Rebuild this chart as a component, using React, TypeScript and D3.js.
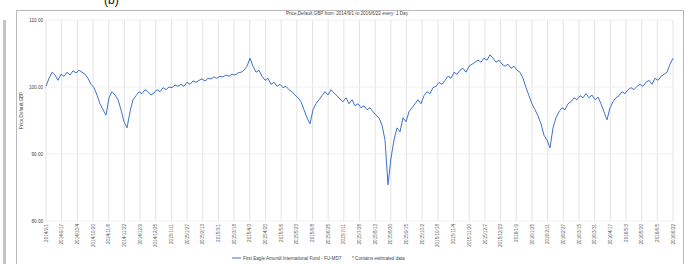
import React from 'react'
import * as d3 from 'd3'

// fund price, one reading roughly every 3px along the chart
const prices = [
  100.1, 101.3, 102.2, 101.8, 101.0, 101.9, 101.6, 102.2, 101.8, 102.4, 102.1, 102.5, 102.2, 101.9, 101.3,
  100.4, 99.9, 98.8, 97.5, 96.6, 95.8, 98.4, 99.3, 98.8, 98.1, 96.6, 94.8, 93.9, 96.3, 98.1,
  98.7, 99.3, 99.0, 99.6, 99.3, 98.8, 99.1, 99.6, 99.3, 99.9, 99.6, 100.0, 99.9, 100.3, 100.1,
  100.4, 100.1, 100.7, 100.4, 100.9, 100.7, 101.0, 101.2, 100.9, 101.3, 101.2, 101.5, 101.3, 101.6, 101.5,
  101.8, 101.6, 101.9, 101.8, 102.1, 102.2, 102.5, 103.1, 104.3, 103.1, 102.2, 102.5, 101.6, 101.0, 101.3,
  100.4, 100.7, 100.1, 100.4, 99.9, 100.1, 99.6, 99.3, 98.8, 98.4, 97.8, 96.6, 95.4, 94.5, 96.6,
  97.5, 98.1, 98.7, 99.3, 98.8, 99.6, 99.1, 98.7, 98.2, 97.8, 98.4, 97.5, 98.1, 97.2, 97.5,
  96.9, 97.2, 96.6, 96.9, 96.3, 95.8, 95.4, 94.3, 92.1, 85.4, 89.4, 92.1, 93.9, 93.3, 95.4,
  94.8, 96.3, 96.9, 97.5, 98.1, 97.5, 98.7, 99.3, 99.0, 99.9, 100.1, 100.7, 100.4, 101.0, 101.6,
  101.3, 102.2, 101.9, 102.5, 102.8, 102.2, 103.1, 103.4, 103.7, 104.0, 103.7, 104.3, 104.0, 104.8, 104.3,
  103.7, 104.0, 103.4, 103.1, 103.4, 102.8, 103.1, 102.5, 102.2, 101.3, 99.9, 98.7, 97.5, 96.6, 95.7,
  94.5, 92.8, 92.1, 90.9, 93.9, 95.4, 96.3, 96.9, 96.6, 97.5, 97.8, 98.4, 98.1, 98.7, 98.4,
  99.0, 98.4, 98.8, 98.1, 98.5, 97.5, 96.3, 95.1, 96.9, 97.8, 98.4, 98.7, 99.3, 99.0, 99.6,
  99.9, 99.6, 100.1, 100.4, 100.1, 100.7, 101.0, 100.4, 101.3, 101.0, 101.6, 101.9, 102.2, 103.4, 104.3,
]

const dateLabels = [
  '2014/9/1', '2014/9/17', '2014/10/4', '2014/10/20', '2014/11/6', '2014/11/22', '2014/12/9',
  '2014/12/25', '2015/1/11', '2015/1/27', '2015/2/13', '2015/3/1', '2015/3/18', '2015/4/3',
  '2015/4/20', '2015/5/6', '2015/5/23', '2015/6/8', '2015/6/25', '2015/7/11', '2015/7/28',
  '2015/8/13', '2015/8/30', '2015/9/15', '2015/10/2', '2015/10/18', '2015/11/4', '2015/11/20',
  '2015/12/7', '2015/12/23', '2016/1/9', '2016/1/25', '2016/2/11', '2016/2/27', '2016/3/15',
  '2016/3/31', '2016/4/17', '2016/5/3', '2016/5/20', '2016/6/5', '2016/6/22',
]

const yTicks = [110, 100, 90, 80]

const seriesName = 'First Eagle Amundi International Fund - FU-MD7'
const title = 'Price,Default,GBP from: 2014/9/1 to 2016/6/22 every: 1 Day'

const W = 689
const H = 264
const left = 46, right = 673, top = 20, bottom = 221
const font = 'Arial, "Liberation Sans", sans-serif'

export default function App() {
  const x = d3.scaleLinear().domain([0, prices.length - 1]).range([left, right])
  const y = d3.scaleLinear().domain([80, 110]).range([bottom, top])
  const xl = d3.scalePoint().domain(dateLabels).range([left, right])

  const line = d3.line<number>()
    .x((d, i) => x(i))
    .y(d => y(d))

  return (
    <svg width={W} height={H} style={{ position: 'absolute', left: 0, top: 0, background: '#fff' }}>
      <text x={104} y={4} fontSize={12} fontFamily={font} fill="#111">(b)</text>
      <rect x={3} y={20} width={3} height={H - 20} fill="#c4c4c4" />
      <rect x={16.5} y={10.5} width={667} height={H} fill="#fff" stroke="#b8b8b8" />

      <text x={347} y={15} fontSize={4.6} fontFamily={font} fill="#444" textAnchor="middle">{title}</text>

      {dateLabels.map(d => (
        <line key={d} x1={xl(d)} x2={xl(d)} y1={top} y2={bottom} stroke="#dcdcdc" strokeWidth={0.8} />
      ))}
      {yTicks.map(t => (
        <g key={t}>
          <line x1={left} x2={right} y1={y(t)} y2={y(t)} stroke="#ececec" strokeWidth={0.8} />
          <text x={43} y={y(t) + 1.6} fontSize={4.6} fontFamily={font} fill="#444" textAnchor="end">{t.toFixed(2)}</text>
        </g>
      ))}

      <text transform={`translate(23,${(top + bottom) / 2 - 10}) rotate(-90)`} fontSize={4.6}
        fontFamily={font} fill="#444" textAnchor="middle">Price,Default,GBP</text>

      {dateLabels.map(d => (
        <text key={d} transform={`translate(${xl(d)! + 1.6},224) rotate(-90)`} fontSize={4.6}
          fontFamily={font} fill="#555" textAnchor="end">{d}</text>
      ))}

      <path d={line(prices) ?? ''} fill="none" stroke="#3f72c8" strokeWidth={1} strokeLinejoin="round" />

      <line x1={232} x2={241} y1={258} y2={258} stroke="#3f72c8" strokeWidth={1} />
      <text x={243} y={259.6} fontSize={4.6} fontFamily={font} fill="#444">{seriesName}</text>
      <text x={352} y={259.6} fontSize={4.6} fontFamily={font} fill="#444">*  Contains estimated data.</text>
    </svg>
  )
}
